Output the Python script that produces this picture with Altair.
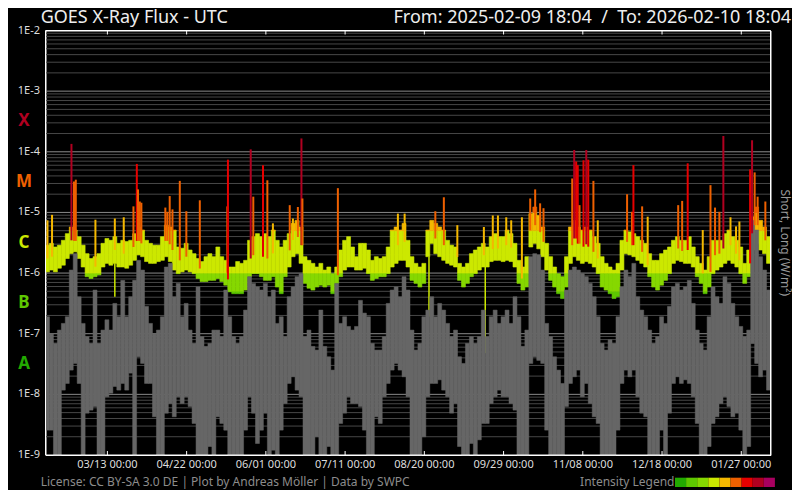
import altair as alt
import pandas as pd

START = "2025-02-09T18:04:00Z"
END = "2026-02-10T18:04:00Z"
BIN_DAYS = 2

TITLE = "GOES X-Ray Flux - UTC"
RANGE_TEXT = "From: 2025-02-09 18:04\u00a0 /\u00a0 To: 2026-02-10 18:04"
FOOTER = "License: CC BY-SA 3.0 DE | Plot by Andreas Möller | Data by SWPC"
LEGEND_LABEL = "Intensity Legend"
RIGHT_TITLE = "Short, Long (W/m²)"

# log10 flux, long channel (upper / lower envelope per 2-day bin)
LONG_HI = [
    -5.54, -5.51, -5.57, -5.54, -5.46, -5.35, -5.24, -5.29, -5.40, -5.54,
    -5.68, -5.76, -5.73, -5.68, -5.51, -5.43, -5.46, -5.40, -5.51, -5.46,
    -5.48, -5.46, -5.35, -5.24, -5.29, -5.46, -5.51, -5.54, -5.54, -5.40,
    -5.21, -5.24, -5.29, -5.57, -5.59, -5.51, -5.62, -5.68, -5.76, -5.81,
    -5.73, -5.68, -5.73, -5.57, -5.73, -5.79, -5.90, -5.90, -5.81, -5.84,
    -5.79, -5.46, -5.40, -5.35, -5.40, -5.35, -5.40, -5.29, -5.46, -5.57,
    -5.46, -5.35, -5.18, -5.13, -5.24, -5.73, -5.79, -5.84, -5.90, -5.84,
    -5.95, -5.90, -6.01, -5.90, -5.62, -5.46, -5.40, -5.57, -5.73, -5.51,
    -5.51, -5.62, -5.79, -5.73, -5.76, -5.73, -5.57, -5.29, -5.24, -5.29,
    -5.18, -5.46, -5.73, -5.84, -5.90, -5.84, -5.29, -5.13, -5.18, -5.24,
    -5.29, -5.46, -5.54, -5.57, -5.84, -5.90, -5.84, -5.68, -5.62, -5.57,
    -5.51, -5.57, -5.40, -5.35, -5.40, -5.40, -5.29, -5.35, -5.51, -5.79,
    -5.90, -5.73, -5.02, -4.91, -5.05, -5.24, -5.51, -5.73, -5.90, -6.01,
    -6.06, -5.73, -5.24, -5.13, -5.24, -5.29, -5.24, -5.29, -5.40, -5.51,
    -5.73, -5.84, -5.90, -5.95, -5.84, -5.46, -5.29, -5.32, -5.35, -5.40,
    -5.46, -5.51, -5.68, -5.79, -5.79, -5.68, -5.62, -5.57, -5.46, -5.40,
    -5.46, -5.46, -5.40, -5.57, -5.73, -5.84, -5.95, -5.73, -5.46, -5.46,
    -5.46, -5.35, -5.29, -5.40, -5.46, -5.57, -5.84, -5.62, -5.07, -4.91,
    -5.13, -5.24, -5.40,
]
LONG_LO = [
    -5.98, -5.95, -5.98, -5.92, -5.87, -5.76, -5.68, -5.65, -5.76, -5.90,
    -6.06, -6.09, -6.06, -6.03, -5.90, -5.84, -5.87, -5.84, -5.90, -5.90,
    -5.92, -5.87, -5.79, -5.70, -5.73, -5.81, -5.84, -5.84, -5.81, -5.79,
    -5.73, -5.81, -5.95, -6.01, -5.98, -5.95, -5.98, -6.01, -6.09, -6.14,
    -6.14, -6.12, -6.12, -6.09, -6.14, -6.20, -6.31, -6.34, -6.34, -6.34,
    -6.28, -6.06, -6.01, -6.01, -6.06, -6.12, -6.12, -6.06, -6.23, -6.34,
    -6.06, -5.90, -5.73, -5.68, -5.84, -6.17, -6.25, -6.28, -6.23, -6.20,
    -6.23, -6.20, -6.34, -6.17, -6.06, -5.95, -5.90, -5.90, -5.95, -5.95,
    -5.92, -6.01, -6.12, -6.09, -6.06, -6.06, -6.01, -5.90, -5.84, -5.79,
    -5.79, -5.90, -6.12, -6.17, -6.23, -6.17, -5.73, -5.51, -5.68, -5.73,
    -5.79, -5.84, -5.87, -5.90, -6.12, -6.23, -6.17, -6.06, -6.01, -5.95,
    -5.90, -5.90, -5.81, -5.79, -5.79, -5.81, -5.79, -5.81, -5.90, -6.17,
    -6.28, -6.23, -5.57, -5.51, -5.60, -5.73, -5.95, -6.12, -6.23, -6.34,
    -6.42, -6.23, -5.84, -5.73, -5.79, -5.84, -5.81, -5.84, -5.90, -6.01,
    -6.23, -6.28, -6.34, -6.42, -6.39, -5.95, -5.68, -5.70, -5.73, -5.79,
    -5.84, -5.90, -6.06, -6.23, -6.28, -6.20, -6.12, -6.01, -5.84, -5.79,
    -5.81, -5.84, -5.84, -5.90, -6.06, -6.17, -6.34, -6.23, -6.01, -5.95,
    -5.90, -5.84, -5.79, -5.84, -5.90, -6.01, -6.17, -6.06, -5.62, -5.51,
    -5.62, -5.68, -5.84,
]
# log10 flux, short channel (upper / lower envelope per 2-day bin)
SHORT_HI = [
    -6.72, -7.00, -7.16, -6.94, -6.83, -6.72, -5.95, -5.68, -6.39, -6.83,
    -7.05, -7.16, -6.28, -7.16, -6.94, -6.77, -6.94, -6.50, -6.72, -6.12,
    -6.72, -6.39, -6.12, -5.79, -5.95, -6.55, -6.83, -7.00, -6.94, -6.72,
    -5.90, -5.84, -6.39, -6.17, -6.72, -6.50, -6.94, -7.16, -6.23, -7.05,
    -7.21, -7.16, -6.94, -6.94, -7.05, -6.28, -6.72, -7.05, -7.16, -7.05,
    -6.61, -6.06, -6.17, -6.23, -6.28, -6.17, -6.39, -6.28, -6.83, -6.72,
    -7.05, -6.39, -6.23, -6.06, -6.01, -7.05, -6.94, -7.21, -7.27, -6.61,
    -7.21, -7.38, -7.60, -6.17, -6.83, -6.72, -6.88, -6.94, -6.88, -6.45,
    -6.66, -6.72, -7.16, -7.27, -7.27, -7.05, -6.50, -6.28, -6.23, -6.39,
    -6.06, -6.28, -6.94, -7.27, -7.16, -6.72, -6.61, -6.39, -6.72, -6.50,
    -6.61, -6.83, -7.05, -6.94, -7.38, -7.49, -7.16, -7.05, -7.16, -7.05,
    -6.61, -7.05, -6.72, -6.61, -6.83, -6.72, -6.61, -6.83, -6.39, -6.72,
    -7.21, -6.94, -5.73, -5.68, -5.70, -5.95, -6.83, -7.05, -7.38, -7.60,
    -7.82, -6.28, -5.95, -5.90, -5.95, -6.01, -6.06, -6.17, -6.39, -6.72,
    -7.16, -7.27, -7.10, -7.16, -6.72, -6.23, -5.95, -6.06, -5.84, -6.39,
    -6.61, -6.72, -6.94, -7.16, -7.05, -6.72, -6.83, -6.55, -6.23, -6.17,
    -6.28, -6.23, -6.12, -6.50, -6.94, -7.16, -7.27, -6.72, -6.23, -6.39,
    -6.50, -6.06, -6.17, -6.50, -6.72, -6.88, -7.05, -6.94, -5.13, -5.29,
    -5.73, -5.95, -6.28,
]
SHORT_LO = [
    -8.59, -8.59, -9.00, -9.00, -7.93, -7.82, -7.60, -7.49, -7.82, -9.00,
    -8.31, -8.26, -8.20, -9.00, -9.00, -8.04, -7.98, -7.87, -7.93, -7.82,
    -7.93, -7.65, -9.00, -7.38, -7.49, -7.82, -7.82, -8.37, -9.00, -9.00,
    -8.31, -8.15, -8.37, -8.04, -8.15, -8.04, -8.20, -8.48, -9.00, -9.00,
    -9.00, -8.86, -9.00, -8.37, -8.48, -8.59, -9.00, -9.00, -9.00, -9.00,
    -8.59, -8.04, -8.31, -8.81, -8.59, -8.31, -9.00, -8.92, -9.00, -8.59,
    -8.15, -7.82, -7.71, -7.93, -8.04, -9.00, -9.00, -9.00, -8.70, -9.00,
    -9.00, -8.86, -9.00, -9.00, -8.48, -8.31, -8.04, -8.15, -8.15, -8.20,
    -8.59, -9.00, -9.00, -8.37, -8.48, -8.04, -7.82, -7.60, -7.49, -7.60,
    -7.71, -8.04, -9.00, -9.00, -9.00, -8.70, -8.04, -7.82, -7.82, -7.76,
    -7.93, -8.04, -8.31, -8.15, -8.86, -9.00, -9.00, -8.81, -9.00, -8.75,
    -8.48, -8.48, -8.15, -8.04, -7.93, -8.04, -8.04, -8.15, -8.26, -9.00,
    -9.00, -9.00, -7.49, -7.38, -7.44, -7.49, -8.59, -9.00, -9.00, -9.00,
    -9.00, -8.20, -7.82, -7.71, -7.60, -8.04, -7.82, -8.15, -8.37, -8.48,
    -9.00, -9.00, -9.00, -9.00, -8.59, -7.82, -7.60, -7.71, -7.60, -8.04,
    -8.31, -8.37, -9.00, -9.00, -9.00, -8.59, -9.00, -8.31, -7.82, -7.71,
    -7.82, -7.76, -7.82, -8.04, -8.48, -9.00, -9.00, -8.86, -8.48, -8.37,
    -8.15, -8.04, -8.20, -8.37, -8.31, -8.59, -9.00, -8.86, -7.16, -7.49,
    -7.71, -7.60, -7.93,
]
# flares: day offset from START and log10 peak flux
FLARE_DAY = [
    1.0, 3.3, 13.1, 14.4, 15.3, 25.2, 35.0, 39.5, 44.4, 46.1, 46.7, 47.6, 48.4,
    60.5, 61.5, 62.7, 64.1, 67.8, 71.1, 77.9, 91.8, 92.1, 103.6, 104.9, 109.8,
    112.0, 114.8, 123.3, 124.9, 127.4, 129.2, 129.7, 147.6, 177.9, 181.3, 196.8,
    201.1, 207.9, 221.3, 225.8, 228.4, 232.6, 235.1, 240.5, 244.7, 247.2, 249.7,
    251.4, 265.9, 266.9, 267.9, 268.7, 269.6, 271.6, 273.0, 274.0, 276.6, 278.8,
    293.6, 296.1, 296.8, 301.2, 304.0, 319.4, 321.4, 324.2, 331.8, 335.7, 338.0,
    340.2, 342.2, 345.8, 348.6, 350.3, 355.7, 356.7, 358.0, 359.5, 363.4,
]
FLARE_PEAK = [
    -5.13, -5.04, -3.87, -4.49, -4.46, -5.12, -5.10, -5.08, -4.90, -4.20, -4.62, -4.82, -4.84,
    -4.92, -4.99, -4.73, -4.95, -4.48, -4.98, -4.80, -4.90, -4.13, -3.96, -4.74, -4.22,
    -4.47, -5.18, -4.88, -5.10, -4.91, -3.78, -4.77, -4.60, -5.02, -5.02, -4.98,
    -4.75, -5.21, -5.24, -5.05, -5.05, -5.08, -5.13, -5.08, -4.77, -4.62, -4.85,
    -4.93, -4.44, -3.97, -4.16, -4.22, -4.88, -4.14, -3.97, -4.13, -4.48, -5.13,
    -4.70, -4.99, -4.22, -4.90, -5.07, -4.88, -4.81, -4.19, -5.29, -4.55, -4.92,
    -4.99, -3.74, -5.08, -5.23, -5.15, -4.29, -3.81, -4.34, -4.74, -4.82,
]
# short data drop-outs in the long channel
DIP_DAY = [35.0, 193.6, 222.0]
DIP_LOW = [-6.39, -6.72, -7.32]

TICK_DATES = ["2025-03-13", "2025-04-22", "2025-06-01", "2025-07-11", "2025-08-20",
              "2025-09-29", "2025-11-08", "2025-12-18", "2026-01-27"]
TICK_LABELS = ["03/13 00:00", "04/22 00:00", "06/01 00:00", "07/11 00:00", "08/20 00:00",
               "09/29 00:00", "11/08 00:00", "12/18 00:00", "01/27 00:00"]
Y_LABELS = ["1E-9", "1E-8", "1E-7", "1E-6", "1E-5", "1E-4", "1E-3", "1E-2"]
Y_EXP = [-9, -8, -7, -6, -5, -4, -3, -2]
CLASS_LETTERS = ["A", "B", "C", "M", "X"]
CLASS_MID = [-7.5, -6.5, -5.5, -4.5, -3.5]
CLASS_COLORS = ["#22aa00", "#5ec800", "#cce800", "#ee6000", "#b00020"]

LEVEL_FLUX = [1e-7, 5e-7, 1e-6, 5e-6, 1e-5, 5e-5, 1e-4, 5e-4]
LEVEL_COLORS = ["#22aa00", "#5ec800", "#86d800", "#cce800", "#f5b800",
                "#ee6000", "#e60000", "#b00020", "#a80060"]
GRAY = "#666666"

W, H = 725, 424.5

t_start = pd.Timestamp(START)


def iso(day):
    return (t_start + pd.Timedelta(days=day)).strftime("%Y-%m-%dT%H:%M:%SZ")


def ms(s):
    return int(pd.Timestamp(s).value // 10**6)


def level_color(v):
    k = sum(1 for f in LEVEL_FLUX if v >= f)
    return LEVEL_COLORS[k]


XS = alt.Scale(type="utc", domain=[ms(START), ms(END)], nice=False)
YS = alt.Scale(type="log", domain=[1e-9, 1e-2], nice=False, clamp=True)

# long channel band split by intensity level
edges = [0.0] + LEVEL_FLUX + [1.0]
band_rows = []
for i, (lo, hi) in enumerate(zip(LONG_LO, LONG_HI)):
    flo, fhi = 10 ** lo, 10 ** hi
    for k in range(len(LEVEL_COLORS)):
        a, b = max(flo, edges[k]), min(fhi, edges[k + 1])
        if b > a:
            band_rows.append({"t0": iso(i * BIN_DAYS), "t1": iso((i + 1) * BIN_DAYS),
                              "lo": a, "hi": b, "col": LEVEL_COLORS[k]})
band_df = pd.DataFrame(band_rows)

gray_df = pd.DataFrame({
    "t0": [iso(i * BIN_DAYS) for i in range(len(SHORT_LO))],
    "t1": [iso((i + 1) * BIN_DAYS) for i in range(len(SHORT_LO))],
    "lo": [10 ** v for v in SHORT_LO],
    "hi": [10 ** v for v in SHORT_HI],
})

nb = len(LONG_LO)
flare_rows = []
for d, p in zip(FLARE_DAY, FLARE_PEAK):
    b = min(int(d // BIN_DAYS), nb - 1)
    base = (LONG_LO[b] + LONG_HI[b]) / 2
    flare_rows.append({"t": iso(d), "base": 10 ** base, "peak": 10 ** p,
                       "col": level_color(10 ** p)})
flare_df = pd.DataFrame(flare_rows)

dip_rows = []
for d, v in zip(DIP_DAY, DIP_LOW):
    b = min(int(d // BIN_DAYS), nb - 1)
    dip_rows.append({"t": iso(d), "top": 10 ** LONG_LO[b], "low": 10 ** v})
dip_df = pd.DataFrame(dip_rows)

minor = [m * 10 ** e for e in range(-9, -2) for m in range(2, 10)]
major = [10.0 ** e for e in range(-8, -2)]

tick_df = pd.DataFrame({"t": [d + "T00:00:00Z" for d in TICK_DATES], "s": TICK_LABELS})
ylab_df = pd.DataFrame({"v": [10.0 ** e for e in Y_EXP], "s": Y_LABELS})
letters_df = pd.DataFrame({"s": CLASS_LETTERS, "v": [10 ** m for m in CLASS_MID],
                           "col": CLASS_COLORS})

one = pd.DataFrame({"k": [0]})

grid_minor = alt.Chart(pd.DataFrame({"g": minor})).mark_rule(
    color="#474747", strokeWidth=1).encode(y=alt.Y("g:Q", scale=YS, axis=None))
grid_major = alt.Chart(pd.DataFrame({"g": major})).mark_rule(
    color="#8a8a8a", strokeWidth=1).encode(y=alt.Y("g:Q", scale=YS, axis=None))

band = alt.Chart(band_df).mark_rect(strokeWidth=0.6).encode(
    x=alt.X("t0:T", scale=XS, axis=None), x2="t1:T",
    y=alt.Y("lo:Q", scale=YS, axis=None), y2="hi:Q",
    color=alt.Color("col:N", scale=None), stroke=alt.Color("col:N", scale=None))

dips = alt.Chart(dip_df).mark_rule(color="#cce800", strokeWidth=1.5).encode(
    x=alt.X("t:T", scale=XS, axis=None),
    y=alt.Y("top:Q", scale=YS, axis=None), y2="low:Q")

gray = alt.Chart(gray_df).mark_rect(color=GRAY, stroke=GRAY, strokeWidth=0.5).encode(
    x=alt.X("t0:T", scale=XS, axis=None), x2="t1:T",
    y=alt.Y("lo:Q", scale=YS, axis=None), y2="hi:Q")

flares = alt.Chart(flare_df).mark_rule(strokeWidth=2).encode(
    x=alt.X("t:T", scale=XS, axis=None),
    y=alt.Y("base:Q", scale=YS, axis=None), y2="peak:Q",
    color=alt.Color("col:N", scale=None))

ticks_bottom = alt.Chart(tick_df).mark_rule(color="#ffffff", strokeWidth=1).encode(
    x=alt.X("t:T", scale=XS, axis=None), y=alt.value(H - 4), y2=alt.value(H))
ticks_top = alt.Chart(tick_df).mark_rule(color="#ffffff", strokeWidth=1).encode(
    x=alt.X("t:T", scale=XS, axis=None), y=alt.value(0), y2=alt.value(4))

x_labels = alt.Chart(tick_df).mark_text(
    fontSize=11, color="#dddddd", align="center", baseline="top").encode(
    x=alt.X("t:T", scale=XS, axis=None), y=alt.value(H + 3.5), text="s:N")

y_labels = alt.Chart(ylab_df).mark_text(
    fontSize=11, color="#dddddd", align="right", baseline="middle").encode(
    y=alt.Y("v:Q", scale=YS, axis=None), x=alt.value(-5.5), text="s:N")

letters = alt.Chart(letters_df).mark_text(
    fontSize=17, fontWeight="bold", align="center", baseline="middle").encode(
    x=alt.value(-21.5), y=alt.Y("v:Q", scale=YS, axis=None), text="s:N",
    color=alt.Color("col:N", scale=None))


def label(text, x, y, **kw):
    return alt.Chart(pd.DataFrame({"s": [text]})).mark_text(**kw).encode(
        text="s:N", x=alt.value(x), y=alt.value(y))


title = label(TITLE, -4.8, -7.5, align="left", baseline="alphabetic",
              fontSize=18, color="#eeeeee")
range_txt = label(RANGE_TEXT, 745.5, -7.5, align="right", baseline="alphabetic",
                  fontSize=18, color="#eeeeee")
footer = label(FOOTER, -4.8, 455.2, align="left", baseline="alphabetic",
               fontSize=12, color="#8c8c8c")
legend_lbl = label(LEGEND_LABEL, 629, 455.2, align="right", baseline="alphabetic",
                   fontSize=12, color="#8c8c8c")
right_title = label(RIGHT_TITLE, W + 14, H / 2, align="center", baseline="middle",
                    fontSize=12, color="#999999", angle=90)

legend_boxes = []
for i, c in enumerate(LEVEL_COLORS):
    x0 = 629.5 + i * 11.1
    legend_boxes.append(alt.Chart(one).mark_rect(color=c).encode(
        x=alt.value(x0), x2=alt.value(x0 + 11.1), y=alt.value(447.2), y2=alt.value(456.5)))

border = [
    alt.Chart(one).mark_rule(color="#ffffff", strokeWidth=1).encode(
        x=alt.value(0), x2=alt.value(W), y=alt.value(0)),
    alt.Chart(one).mark_rule(color="#ffffff", strokeWidth=1).encode(
        x=alt.value(0), x2=alt.value(W), y=alt.value(H)),
    alt.Chart(one).mark_rule(color="#ffffff", strokeWidth=1).encode(
        x=alt.value(0), y=alt.value(0), y2=alt.value(H)),
    alt.Chart(one).mark_rule(color="#ffffff", strokeWidth=1).encode(
        x=alt.value(W), y=alt.value(0), y2=alt.value(H)),
]

chart = alt.layer(
    grid_minor, grid_major, band, dips, gray, flares, ticks_bottom, ticks_top,
    x_labels, y_labels, letters, title, range_txt, footer, legend_lbl, right_title,
    *legend_boxes, *border,
).properties(
    width=W, height=H,
    autosize=alt.AutoSizeParams(type="none"),
    padding={"left": 37.5, "top": 22.5, "right": 21.5, "bottom": 35},
).configure(
    background="#000000", font="Noto Sans",
).configure_view(stroke="#ffffff", strokeWidth=1)

chart.save("out.html", embed_options={"renderer": "svg", "actions": False})
